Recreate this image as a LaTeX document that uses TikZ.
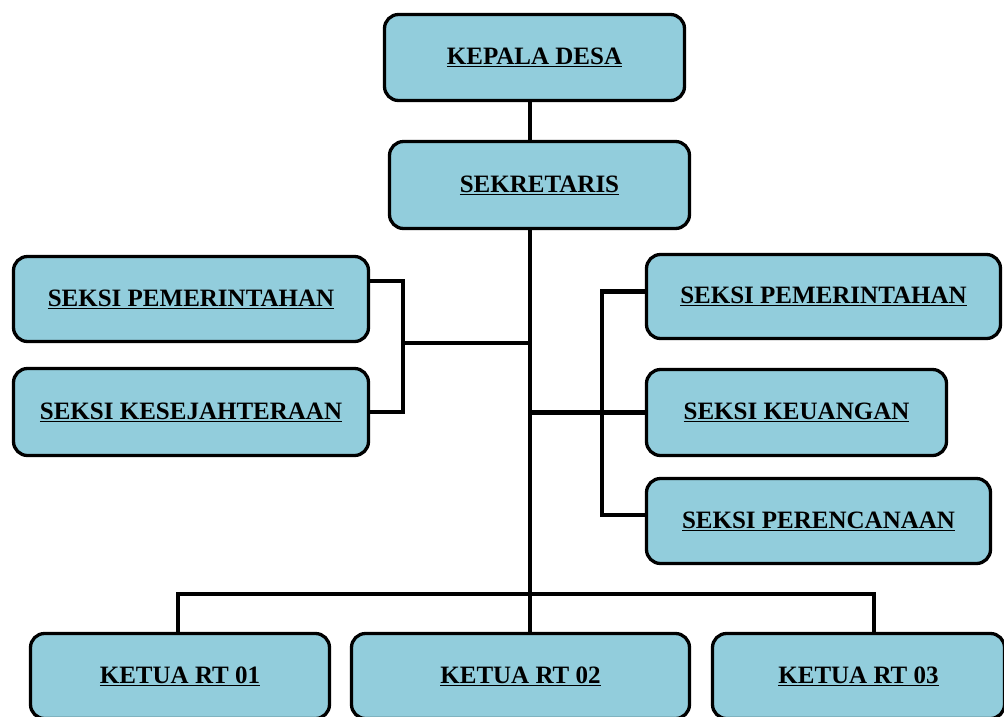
\documentclass[tikz,border=0pt]{standalone}
\usepackage{fontspec}
\setmainfont{Liberation Serif}
\definecolor{boxblue}{RGB}{146,205,220}
\tikzset{
  orgbox/.style={draw=black, line width=3.3pt, rounded corners=14pt, fill=boxblue,
    inner sep=0pt, align=center, font=\bfseries\fontsize{25}{30}\selectfont},
  conn/.style={draw=black, line width=4.8pt, line join=miter},
}
\newcommand{\ul}[1]{\underline{#1}}
\begin{document}
\begin{tikzpicture}[x=1pt,y=-1pt]
\useasboundingbox (0,0) rectangle (1004,716);
% boxes (width/height minus border width)
\node[orgbox, minimum width=300pt, minimum height=86pt] (kd)  at (534.5,57.5) {\ul{KEPALA DESA}};
\node[orgbox, minimum width=300pt, minimum height=87pt] (sek) at (539.5,185)  {\ul{SEKRETARIS}};
\node[orgbox, minimum width=355pt, minimum height=85pt] (lp)  at (191,299)    {\ul{SEKSI PEMERINTAHAN}};
\node[orgbox, minimum width=355pt, minimum height=87pt] (lk)  at (191,412)    {\ul{SEKSI KESEJAHTERAAN}};
\node[orgbox, minimum width=354pt, minimum height=84pt] (rp)  at (823.5,296.5) {\ul{SEKSI PEMERINTAHAN}};
\node[orgbox, minimum width=300pt, minimum height=86pt] (rk)  at (796.5,412.5) {\ul{SEKSI KEUANGAN}};
\node[orgbox, minimum width=344pt, minimum height=85pt] (rr)  at (818.5,521)   {\ul{SEKSI PERENCANAAN}};
\node[orgbox, minimum width=299pt, minimum height=85pt] (rt1) at (180,676)    {\ul{KETUA RT 01}};
\node[orgbox, minimum width=338pt, minimum height=85pt] (rt2) at (520.5,676)  {\ul{KETUA RT 02}};
\node[orgbox, minimum width=292pt, minimum height=85pt] (rt3) at (858.5,676)  {\ul{KETUA RT 03}};
% junction coordinates
\coordinate (trunk) at (530,594);
\coordinate (lb) at (403,343);
\coordinate (rb) at (602,412.5);
\coordinate (bl) at (178,594);
\coordinate (br) at (874,594);
% connectors
\draw[conn] (kd.south -| trunk) -- (sek.north -| trunk);
\draw[conn] (sek.south -| trunk) -- (trunk);
\draw[conn] ([yshift=18pt]lp.east) -| (lb) |- (lk.east);
\draw[conn] (lb) -- (lb -| trunk);
\draw[conn] ([yshift=5pt]rp.west) -| (rb) |- ([yshift=6pt]rr.west);
\draw[conn] (rb -| trunk) -- (rk.west);
\draw[conn] (bl |- rt1.north) -- (bl) -- (br) -- (br |- rt3.north);
\draw[conn] (trunk) -- (rt2.north -| trunk);
\end{tikzpicture}
\end{document}
